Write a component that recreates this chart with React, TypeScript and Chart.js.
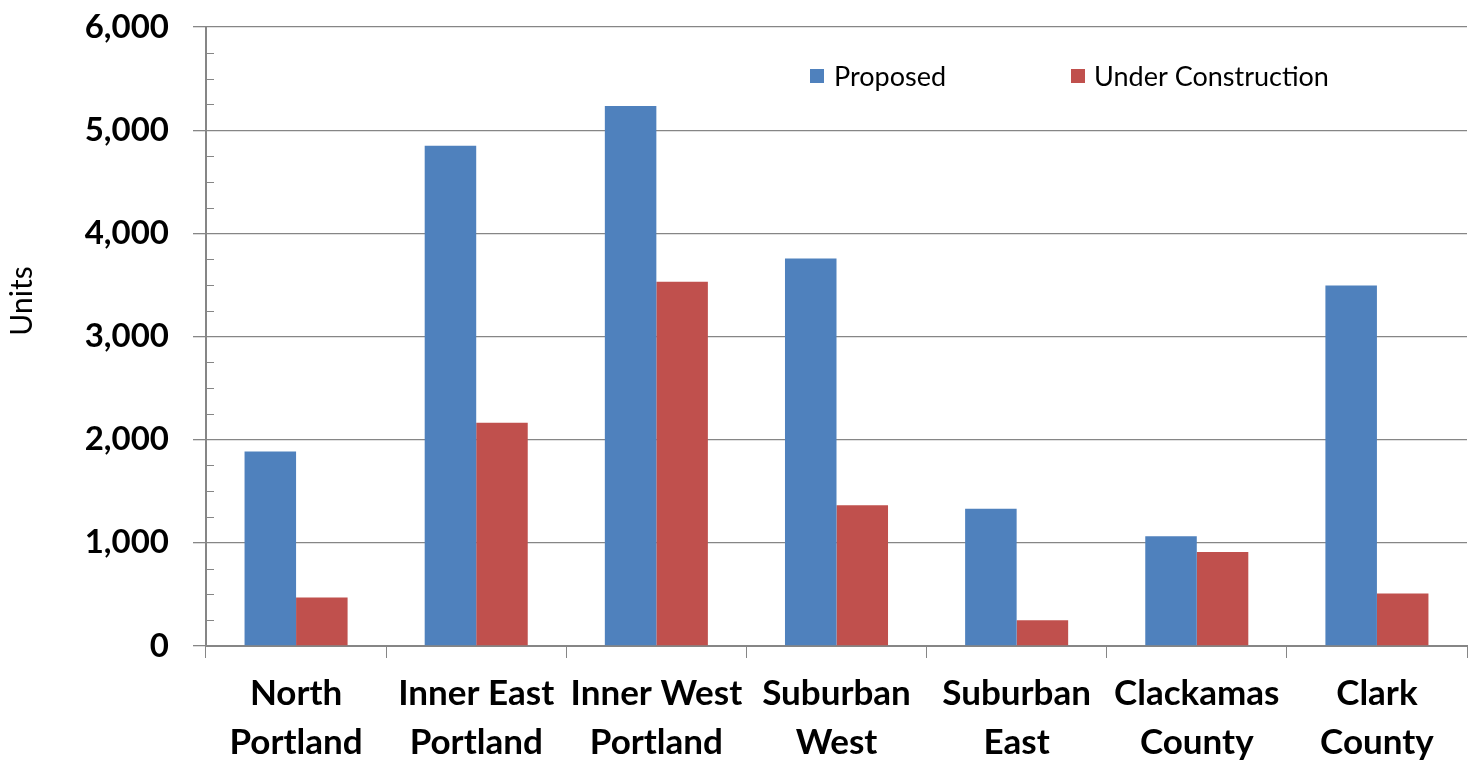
import React, { useEffect, useRef } from "react";
import { Chart, registerables } from "chart.js";

Chart.register(...registerables);

const categories: string[][] = [
  ["North", "Portland"],
  ["Inner East", "Portland"],
  ["Inner West", "Portland"],
  ["Suburban", "West"],
  ["Suburban", "East"],
  ["Clackamas", "County"],
  ["Clark", "County"],
];
const proposed = [1885, 4850, 5235, 3755, 1330, 1065, 3495];
const underConstruction = [470, 2165, 3530, 1365, 250, 910, 510];
const seriesNames = ["Proposed", "Under Construction"];
const seriesColors = ["#4F81BD", "#C0504D"];
const yTicks = [0, 1000, 2000, 3000, 4000, 5000, 6000];
const yTitle = "Units";

const FONT = "Lato, 'Liberation Sans', sans-serif";
const AXIS = "#868686";

const minorTicks = {
  id: "minorTicks",
  afterDraw(chart: any) {
    const y = chart.scales.y;
    const ctx = chart.ctx;
    const left = chart.chartArea.left;
    ctx.save();
    ctx.strokeStyle = AXIS;
    ctx.lineWidth = 1;
    for (let v = 0; v <= 6000; v += 250) {
      if (v % 1000 === 0) continue;
      const py = Math.round(y.getPixelForValue(v)) + 0.5;
      ctx.beginPath();
      ctx.moveTo(left, py);
      ctx.lineTo(left + 8, py);
      ctx.stroke();
    }
    ctx.restore();
  },
};

const customLegend = {
  id: "customLegend",
  afterDraw(chart: any) {
    const ctx = chart.ctx;
    ctx.save();
    ctx.font = `27px ${FONT}`;
    ctx.textBaseline = "middle";
    ctx.textAlign = "left";
    const items = [
      { box: 810, text: 834 },
      { box: 1071, text: 1094 },
    ];
    const cy = 76;
    items.forEach((it, i) => {
      ctx.fillStyle = seriesColors[i];
      ctx.fillRect(it.box, cy - 7, 14, 14);
      ctx.fillStyle = "#000";
      ctx.fillText(seriesNames[i], it.text, cy + 1);
    });
    // y axis title
    ctx.translate(22, 301);
    ctx.rotate(-Math.PI / 2);
    ctx.textAlign = "center";
    ctx.font = `30px ${FONT}`;
    ctx.fillText(yTitle, 0, 0);
    ctx.restore();
  },
};

export default function App() {
  const ref = useRef<HTMLCanvasElement>(null);
  useEffect(() => {
    if (!ref.current) return;
    const chart = new Chart(ref.current, {
      type: "bar",
      data: {
        labels: categories,
        datasets: [
          {
            label: seriesNames[0],
            data: proposed,
            backgroundColor: seriesColors[0],
            barPercentage: 1,
            categoryPercentage: 0.572,
          },
          {
            label: seriesNames[1],
            data: underConstruction,
            backgroundColor: seriesColors[1],
            barPercentage: 1,
            categoryPercentage: 0.572,
          },
        ],
      },
      options: {
        animation: false,
        responsive: false,
        maintainAspectRatio: false,
        layout: { padding: { top: 27, right: 10, left: 0, bottom: 0 } },
        plugins: {
          legend: { display: false },
          tooltip: { enabled: false },
        },
        scales: {
          x: {
            grid: {
              display: true,
              drawOnChartArea: false,
              drawTicks: true,
              tickLength: 12,
              color: AXIS,
              offset: true,
            },
            border: { color: AXIS, width: 2 },
            ticks: {
              color: "#000",
              font: { family: FONT, size: 35, weight: "bold", lineHeight: 1.38 },
              padding: 12,
              maxRotation: 0,
              autoSkip: false,
            },
            afterFit(scale: any) {
              scale.height = 116;
              scale.paddingLeft = 0;
              scale.paddingRight = 0;
            },
          },
          y: {
            min: 0,
            max: 6000,
            afterBuildTicks(scale: any) {
              scale.ticks = yTicks.map((v) => ({ value: v }));
            },
            grid: {
              color: AXIS,
              lineWidth: 1.3,
              drawTicks: true,
              tickLength: 13,
            },
            border: { color: AXIS, width: 2 },
            ticks: {
              color: "#000",
              font: { family: FONT, size: 33, weight: "bold" },
              padding: 24,
              callback: (v: any) => Number(v).toLocaleString("en-US"),
            },
            afterFit(scale: any) {
              scale.width = 206;
              scale.paddingTop = 0;
              scale.paddingBottom = 0;
            },
          },
        },
      },
      plugins: [minorTicks, customLegend],
    });
    return () => chart.destroy();
  }, []);
  return (
    <div style={{ position: "absolute", left: 0, top: 0, width: 1477, height: 762, background: "#fff" }}>
      <canvas ref={ref} width={1477} height={762} style={{ width: 1477, height: 762 }} />
    </div>
  );
}
